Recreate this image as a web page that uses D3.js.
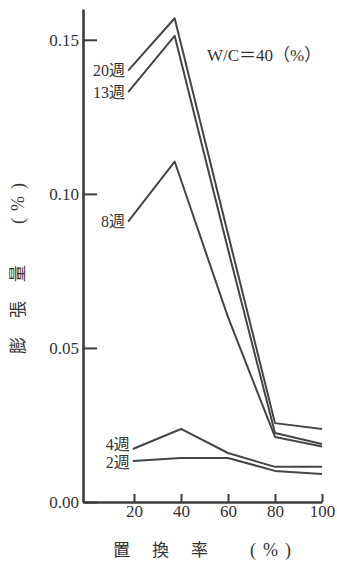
<!DOCTYPE html>
<html>
<head>
<meta charset="utf-8">
<script src="https://cdn.jsdelivr.net/npm/d3@7"></script>
<style>
  body { margin: 0; background: #fff; }
  svg text { font-family: "Liberation Serif", "Noto Sans CJK JP", serif; fill: #333; }
  .axis .domain { stroke: #3c3c3c; stroke-width: 2.6; }
  .axis .tick line { stroke: #3c3c3c; stroke-width: 2; }
  .axis .tick text { font-size: 17px; fill: #333; }
  .curve { fill: none; stroke: #454545; stroke-width: 2; stroke-linejoin: round; }
</style>
</head>
<body>
<script>
// replacement rate (%); the three upper curves peak a bit left of 40
const rateUpper = [17.5, 37.3, 60, 80, 100];
const rateLower = [19.5, 40, 60, 80, 100];

// expansion (%) per age
const week20 = [0.140, 0.157, 0.087, 0.0256, 0.0237];
const week13 = [0.133, 0.1513, 0.082, 0.0224, 0.0188];
const week8 = [0.0910, 0.1105, 0.060, 0.0211, 0.018];
const week4 = [0.0172, 0.0237, 0.0159, 0.0114, 0.0114];
const week2 = [0.0133, 0.0143, 0.0143, 0.0101, 0.0091];

const seriesLabels = ["20週", "13週", "8週", "4週", "2週"];
const xTicks = [20, 40, 60, 80, 100];
const yTicks = [0, 0.05, 0.10, 0.15];

const series = [
  { name: seriesLabels[0], xs: rateUpper, ys: week20 },
  { name: seriesLabels[1], xs: rateUpper, ys: week13 },
  { name: seriesLabels[2], xs: rateUpper, ys: week8 },
  { name: seriesLabels[3], xs: rateLower, ys: week4 },
  { name: seriesLabels[4], xs: rateLower, ys: week2 }
];

const w = 337, h = 561;
const svg = d3.select("body").append("svg")
  .attr("width", w)
  .attr("height", h);

const x = d3.scaleLinear().domain([-1.7, 100]).range([83, 322]);
const y = d3.scaleLinear().domain([0, 0.16]).range([502, 9]);

const yAxis = d3.axisLeft(y)
  .tickValues(yTicks)
  .tickFormat(d3.format(".2f"))
  .tickSizeInner(-14)
  .tickSizeOuter(0)
  .tickPadding(4);

const xAxis = d3.axisBottom(x)
  .tickValues(xTicks)
  .tickSizeInner(-8)
  .tickSizeOuter(0)
  .tickPadding(3);

svg.append("g")
  .attr("class", "axis")
  .attr("transform", "translate(" + x(-1.7) + ",0)")
  .call(yAxis);

svg.append("g")
  .attr("class", "axis")
  .attr("transform", "translate(0," + y(0) + ")")
  .call(xAxis);

const line = d3.line()
  .x(d => x(d[0]))
  .y(d => y(d[1]));

series.forEach(s => {
  const pts = s.xs.map((v, i) => [v, s.ys[i]]);
  svg.append("path")
    .attr("class", "curve")
    .attr("d", line(pts));

  // 4週 / 2週 sit very close, nudge them apart like the original
  let nudge = 0;
  if (s.name == "4週") nudge = -5;
  if (s.name == "2週") nudge = 1.5;

  svg.append("text")
    .attr("x", x(s.xs[0]) - 3)
    .attr("y", y(s.ys[0]) + nudge)
    .attr("dy", "0.35em")
    .attr("text-anchor", "end")
    .style("font-size", "16px")
    .text(s.name);
});

// condition note
svg.append("text")
  .attr("x", 207)
  .attr("y", 55)
  .attr("dy", "0.35em")
  .style("font-size", "17px")
  .text("W/C＝40（%）");

// x title
svg.append("text")
  .attr("x", 113)
  .attr("y", 550)
  .attr("dy", "0.35em")
  .style("font-size", "17px")
  .style("letter-spacing", "22px")
  .text("置換率");
svg.append("text")
  .attr("x", 250)
  .attr("y", 550)
  .attr("dy", "0.35em")
  .style("font-size", "18px")
  .style("letter-spacing", "7px")
  .text("(%)");

// y title, rotated
svg.append("text")
  .attr("transform", "translate(18,354) rotate(-90)")
  .attr("dy", "0.35em")
  .style("font-size", "17px")
  .style("letter-spacing", "19px")
  .text("膨張量");
svg.append("text")
  .attr("transform", "translate(18,224) rotate(-90)")
  .attr("dy", "0.35em")
  .style("font-size", "18px")
  .style("letter-spacing", "7px")
  .text("(%)");
</script>
</body>
</html>
